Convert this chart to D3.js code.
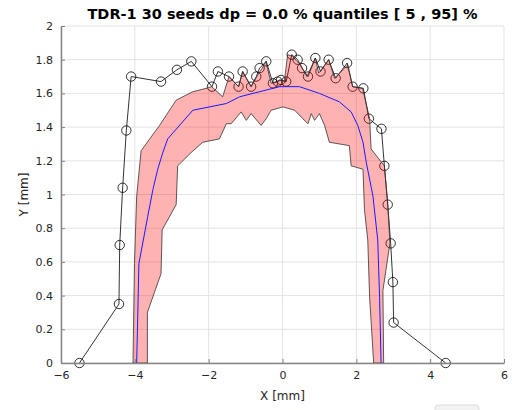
<!DOCTYPE html>
<html>
<head>
<meta charset="utf-8">
<script src="https://cdn.jsdelivr.net/npm/d3@7"></script>
<style>
  body { margin: 0; background: #fff; }
  text { font-family: "DejaVu Sans", sans-serif; }
</style>
</head>
<body>
<script>
// original profile (circles)
let origX = [-5.50, -4.43, -4.41, -4.33, -4.23, -4.10, -3.29, -2.86, -2.47, -1.91, -1.75, -1.45, -1.19, -1.08, -0.85, -0.71, -0.62, -0.44, -0.26, -0.13, -0.04, 0.10, 0.25, 0.41, 0.53, 0.69, 0.89, 1.03, 1.25, 1.44, 1.75, 1.90, 2.19, 2.34, 2.68, 2.76, 2.85, 2.93, 2.99, 3.01, 4.42];
let origY = [0.00, 0.35, 0.70, 1.04, 1.38, 1.70, 1.67, 1.74, 1.79, 1.64, 1.73, 1.70, 1.64, 1.73, 1.64, 1.70, 1.75, 1.79, 1.66, 1.67, 1.68, 1.67, 1.83, 1.80, 1.75, 1.70, 1.81, 1.73, 1.80, 1.69, 1.78, 1.64, 1.63, 1.45, 1.39, 1.17, 0.94, 0.71, 0.48, 0.24, 0.00];

// 95% quantile (outer edge of band)
let upX = [-4.05, -4.01, -3.95, -3.83, -3.33, -2.88, -2.43, -2.07, -1.92, -1.62, -1.45, -1.19, -1.08, -0.85, -0.67, -0.55, -0.45, -0.31, -0.17, -0.08, 0.05, 0.14, 0.28, 0.39, 0.46, 0.66, 0.89, 0.98, 1.25, 1.41, 1.77, 1.90, 2.17, 2.36, 2.40, 2.76, 2.85, 2.91, 2.72, 2.74];
let upY = [0.00, 0.59, 0.99, 1.26, 1.41, 1.56, 1.61, 1.63, 1.64, 1.58, 1.70, 1.64, 1.73, 1.64, 1.71, 1.75, 1.79, 1.66, 1.67, 1.68, 1.67, 1.83, 1.82, 1.79, 1.78, 1.70, 1.81, 1.72, 1.80, 1.69, 1.77, 1.64, 1.63, 1.45, 1.27, 1.17, 0.95, 0.71, 0.43, 0.00];

// 5% quantile (inner edge of band)
let loX = [-3.66, -3.66, -3.29, -3.26, -2.88, -2.84, -2.47, -2.16, -1.71, -1.52, -1.39, -1.12, -0.98, -0.85, -0.58, -0.44, -0.31, 0.01, 0.33, 0.55, 0.69, 0.78, 0.87, 1.00, 1.14, 1.27, 1.81, 1.86, 2.18, 2.22, 2.31, 2.36, 2.47];
let loY = [0.00, 0.30, 0.53, 0.79, 0.94, 1.17, 1.25, 1.31, 1.33, 1.42, 1.42, 1.49, 1.44, 1.48, 1.41, 1.45, 1.50, 1.52, 1.50, 1.45, 1.42, 1.48, 1.44, 1.48, 1.41, 1.31, 1.29, 1.17, 1.15, 0.91, 0.73, 0.39, 0.00];

// median
let medX = [-3.95, -3.89, -3.65, -3.51, -3.38, -3.24, -3.11, -2.43, -1.52, -1.16, -0.62, -0.08, 0.46, 1.00, 1.54, 1.86, 2.04, 2.18, 2.27, 2.45, 2.58, 2.63, 2.67];
let medY = [0.00, 0.59, 0.87, 1.03, 1.15, 1.25, 1.33, 1.50, 1.54, 1.58, 1.61, 1.64, 1.64, 1.60, 1.55, 1.49, 1.41, 1.31, 1.19, 0.99, 0.73, 0.39, 0.00];

let xTicks = [-6, -4, -2, 0, 2, 4, 6];
let yTicks = [0, 0.2, 0.4, 0.6, 0.8, 1, 1.2, 1.4, 1.6, 1.8, 2];

let margin = {top: 26, right: 8, bottom: 47, left: 61},
    width = 512 - margin.left - margin.right,
    height = 410 - margin.top - margin.bottom;

let root = d3.select("body")
    .append("svg")
        .attr("width", 512)
        .attr("height", 410);

let svg = root.append("g")
    .attr("transform", "translate(" + margin.left + "," + margin.top + ")");

let x = d3.scaleLinear().domain([-6, 6]).range([0, width]);
let y = d3.scaleLinear().domain([0, 2]).range([height, 0]);

// grid
svg.append("g")
    .selectAll("line.gx")
    .data(xTicks)
    .enter().append("line")
        .attr("x1", d => x(d)).attr("x2", d => x(d))
        .attr("y1", 0).attr("y2", height)
        .style("stroke", "#e3e3e3");
svg.append("g")
    .selectAll("line.gy")
    .data(yTicks)
    .enter().append("line")
        .attr("x1", 0).attr("x2", width)
        .attr("y1", d => y(d)).attr("y2", d => y(d))
        .style("stroke", "#e3e3e3");

let line = d3.line()
    .x(d => x(d[0]))
    .y(d => y(d[1]));

// original profile with circles
let orig = origX.map((v, i) => [v, origY[i]]);
svg.append("path")
    .datum(orig)
    .attr("d", line)
    .style("fill", "none")
    .style("stroke", "#000")
    .style("stroke-width", 0.8);
svg.selectAll("circle")
    .data(orig)
    .enter().append("circle")
        .attr("cx", d => x(d[0]))
        .attr("cy", d => y(d[1]))
        .attr("r", 4.7)
        .style("fill", "none")
        .style("stroke", "#000")
        .style("stroke-width", 0.8);

// quantile band
let upper = upX.map((v, i) => [v, upY[i]]);
let lower = loX.map((v, i) => [v, loY[i]]);
let band = upper.concat(lower.slice().reverse());
svg.append("path")
    .datum(band)
    .attr("d", d => line(d) + "Z")
    .style("fill", "rgba(255,0,0,0.3)")
    .style("stroke", "#333")
    .style("stroke-width", 0.8);

// median
svg.append("path")
    .datum(medX.map((v, i) => [v, medY[i]]))
    .attr("d", line)
    .style("fill", "none")
    .style("stroke", "#1a1aff")
    .style("stroke-width", 1);

// axes
let xAxis = svg.append("g")
    .attr("transform", "translate(0," + height + ")")
    .call(d3.axisBottom(x).tickValues(xTicks).tickSizeInner(-4).tickSizeOuter(0).tickPadding(8));
let yAxis = svg.append("g")
    .call(d3.axisLeft(y).tickValues(yTicks).tickFormat(d3.format("")).tickSizeInner(-4).tickSizeOuter(0).tickPadding(8));
[xAxis, yAxis].forEach(function(a) {
    a.select(".domain").style("stroke", "#858585").style("stroke-width", 1.5);
    a.selectAll(".tick line").style("stroke", "#858585");
    a.selectAll(".tick text")
        .style("font-family", "DejaVu Sans, sans-serif")
        .style("font-size", "11px")
        .style("fill", "#262626");
});

// labels
root.append("text")
    .text("TDR-1 30 seeds dp = 0.0 % quantiles [ 5 , 95] %")
    .attr("x", margin.left + x(0))
    .attr("y", 19)
    .attr("text-anchor", "middle")
    .style("font-size", "14.5px")
    .style("font-weight", "bold")
    .style("fill", "#000");

root.append("text")
    .text("X [mm]")
    .attr("x", margin.left + x(0))
    .attr("y", 400)
    .attr("text-anchor", "middle")
    .style("font-size", "12px")
    .style("fill", "#262626");

root.append("text")
    .text("Y [mm]")
    .attr("transform", "translate(28," + (margin.top + height / 2) + ") rotate(-90)")
    .attr("text-anchor", "middle")
    .style("font-size", "12px")
    .style("fill", "#262626");

// little toolbar stub at the bottom right
root.append("rect")
    .attr("x", 435).attr("y", 405)
    .attr("width", 44).attr("height", 10)
    .attr("rx", 3)
    .style("fill", "#f2f2f2")
    .style("stroke", "#dcdcdc");
</script>
</body>
</html>
